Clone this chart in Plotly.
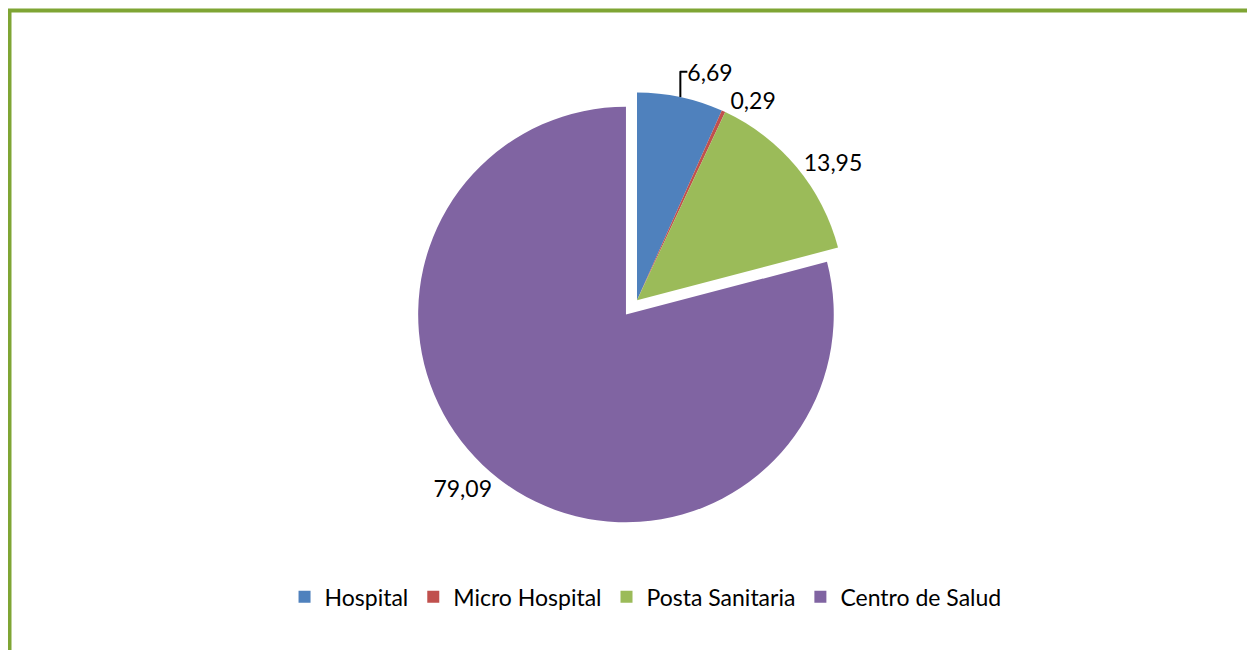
import plotly.graph_objects as go

# Datos del gráfico (porcentajes por tipo de establecimiento)
categorias = ["Hospital", "Micro Hospital", "Posta Sanitaria", "Centro de Salud"]
porcentajes = [6.69, 0.29, 13.95, 79.09]
colores = ["#4F81BD", "#C0504D", "#9BBB59", "#8064A2"]
separacion = [0, 0, 0, 0.087]

fig = go.Figure()

fig.add_trace(go.Pie(
    labels=categorias,
    values=porcentajes,
    sort=False,
    direction="clockwise",
    rotation=0,
    pull=separacion,
    marker=dict(colors=colores, line=dict(width=0)),
    texttemplate="%{value:.2f}",
    textposition="outside",
    textfont=dict(size=23, color="black"),
    domain=dict(x=[0.2, 0.8024], y=[0.203, 0.898]),
    hoverinfo="label+value",
))

# Marco verde (la página tiene 8px de margen en el body)
borde = "#7FA534"
fig.add_shape(type="line", xref="paper", yref="paper",
              x0=0.0012, x1=0.0012, y0=-0.05, y1=0.9962,
              line=dict(color=borde, width=4))
fig.add_shape(type="line", xref="paper", yref="paper",
              x0=0.0, x1=1.05, y0=0.9962, y1=0.9962,
              line=dict(color=borde, width=4))

fig.update_layout(
    width=1255,
    height=650,
    margin=dict(l=0, r=0, t=0, b=0),
    paper_bgcolor="white",
    plot_bgcolor="white",
    separators=",.",
    font=dict(family="Lato, Open Sans, sans-serif", size=23, color="black"),
    showlegend=True,
    legend=dict(
        orientation="h",
        x=0.508, xanchor="center",
        y=0.094, yanchor="middle",
        font=dict(size=23),
        itemclick=False,
    ),
)

fig.write_html("out.html")
